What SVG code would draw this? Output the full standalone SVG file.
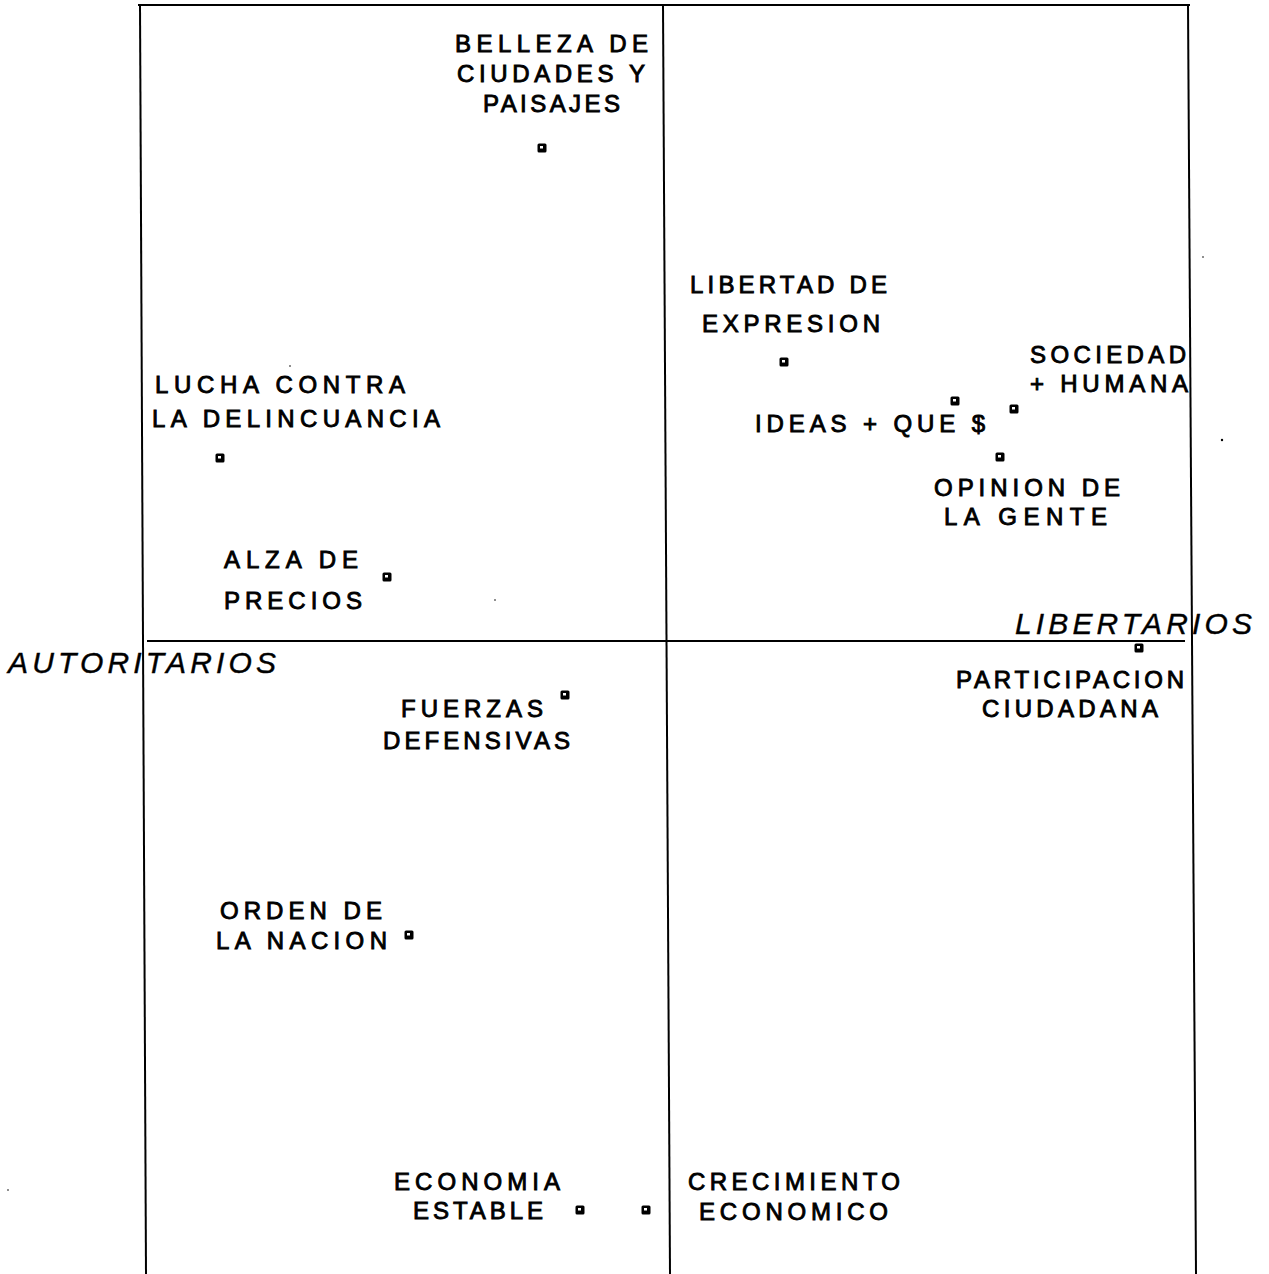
<svg xmlns="http://www.w3.org/2000/svg" xmlns:xlink="http://www.w3.org/1999/xlink" width="1269" height="1274" viewBox="0 0 1269 1274">
<style>
.lbl{font-family:"Liberation Sans",Arial,sans-serif;font-size:24px;fill:#000;stroke:#000;stroke-width:0.9px}
.pole{font-family:"Liberation Sans",Arial,sans-serif;font-size:30px;font-style:italic;fill:#000;stroke:#000;stroke-width:0.4px}
.ax{stroke:#000;stroke-width:2;fill:none}
.dot{fill:#000}
</style>
<defs>
<g id="pt">
<rect x="-4.5" y="-4.5" width="9" height="9" rx="1.5" fill="#000"/>
<rect x="-2" y="-2" width="3" height="2.5" fill="#fff"/>
</g>
</defs>
<rect width="1269" height="1274" fill="#fff"/>
<g id="axes">
<line class="ax" x1="138" y1="5" x2="1190" y2="5"/>
<line class="ax" x1="140" y1="5" x2="146" y2="1274"/>
<line class="ax" x1="663" y1="5" x2="670" y2="1274"/>
<line class="ax" x1="1188" y1="5" x2="1196" y2="1274"/>
<line class="ax" x1="147" y1="641" x2="1185" y2="641"/>
</g>
<g id="poles">
<text class="pole" x="1015" y="634" textLength="237" lengthAdjust="spacing">LIBERTARIOS</text>
<text class="pole" x="8" y="673" textLength="268" lengthAdjust="spacing">AUTORITARIOS</text>
</g>
<g id="belleza">
<use xlink:href="#pt" href="#pt" x="542" y="148"/>
<text class="lbl" x="455" y="52" textLength="193" lengthAdjust="spacing">BELLEZA DE</text>
<text class="lbl" x="457" y="82" textLength="188" lengthAdjust="spacing">CIUDADES Y</text>
<text class="lbl" x="483" y="112" textLength="137" lengthAdjust="spacing">PAISAJES</text>
</g>
<g id="libertad">
<use xlink:href="#pt" href="#pt" x="784" y="362"/>
<text class="lbl" x="690" y="293" textLength="197" lengthAdjust="spacing">LIBERTAD DE</text>
<text class="lbl" x="702" y="332" textLength="178" lengthAdjust="spacing">EXPRESION</text>
</g>
<g id="sociedad">
<use xlink:href="#pt" href="#pt" x="1014" y="409"/>
<text class="lbl" x="1030" y="363" textLength="156" lengthAdjust="spacing">SOCIEDAD</text>
<text class="lbl" x="1030" y="392" textLength="158" lengthAdjust="spacing">+ HUMANA</text>
</g>
<g id="ideas">
<use xlink:href="#pt" href="#pt" x="955" y="401"/>
<text class="lbl" x="755" y="432" textLength="230" lengthAdjust="spacing">IDEAS + QUE $</text>
</g>
<g id="opinion">
<use xlink:href="#pt" href="#pt" x="1000" y="457"/>
<text class="lbl" x="934" y="496" textLength="186" lengthAdjust="spacing">OPINION DE</text>
<text class="lbl" x="944" y="525" textLength="163" lengthAdjust="spacing">LA GENTE</text>
</g>
<g id="lucha">
<use xlink:href="#pt" href="#pt" x="220" y="458"/>
<text class="lbl" x="155" y="393" textLength="250" lengthAdjust="spacing">LUCHA CONTRA</text>
<text class="lbl" x="152" y="427" textLength="288" lengthAdjust="spacing">LA DELINCUANCIA</text>
</g>
<g id="alza">
<use xlink:href="#pt" href="#pt" x="387" y="577"/>
<text class="lbl" x="224" y="568" textLength="134" lengthAdjust="spacing">ALZA DE</text>
<text class="lbl" x="224" y="609" textLength="138" lengthAdjust="spacing">PRECIOS</text>
</g>
<g id="participacion">
<use xlink:href="#pt" href="#pt" x="1139" y="648"/>
<text class="lbl" x="956" y="688" textLength="228" lengthAdjust="spacing">PARTICIPACION</text>
<text class="lbl" x="982" y="717" textLength="176" lengthAdjust="spacing">CIUDADANA</text>
</g>
<g id="fuerzas">
<use xlink:href="#pt" href="#pt" x="565" y="695"/>
<text class="lbl" x="401" y="717" textLength="142" lengthAdjust="spacing">FUERZAS</text>
<text class="lbl" x="383" y="749" textLength="187" lengthAdjust="spacing">DEFENSIVAS</text>
</g>
<g id="orden">
<use xlink:href="#pt" href="#pt" x="409" y="935"/>
<text class="lbl" x="220" y="919" textLength="162" lengthAdjust="spacing">ORDEN DE</text>
<text class="lbl" x="216" y="949" textLength="171" lengthAdjust="spacing">LA NACION</text>
</g>
<g id="economia">
<use xlink:href="#pt" href="#pt" x="580" y="1210"/>
<text class="lbl" x="394" y="1190" textLength="166" lengthAdjust="spacing">ECONOMIA</text>
<text class="lbl" x="413" y="1219" textLength="130" lengthAdjust="spacing">ESTABLE</text>
</g>
<g id="crecimiento">
<use xlink:href="#pt" href="#pt" x="646" y="1210"/>
<text class="lbl" x="688" y="1190" textLength="212" lengthAdjust="spacing">CRECIMIENTO</text>
<text class="lbl" x="699" y="1220" textLength="189" lengthAdjust="spacing">ECONOMICO</text>
</g>
<g id="specks">
<circle class="dot" cx="1222" cy="440" r="1.2"/>
<circle class="dot" cx="1203" cy="257" r="0.8"/>
<circle class="dot" cx="495" cy="600" r="0.8"/>
<circle class="dot" cx="290" cy="366" r="0.8"/>
<circle class="dot" cx="8" cy="1190" r="0.8"/>
</g>
</svg>
